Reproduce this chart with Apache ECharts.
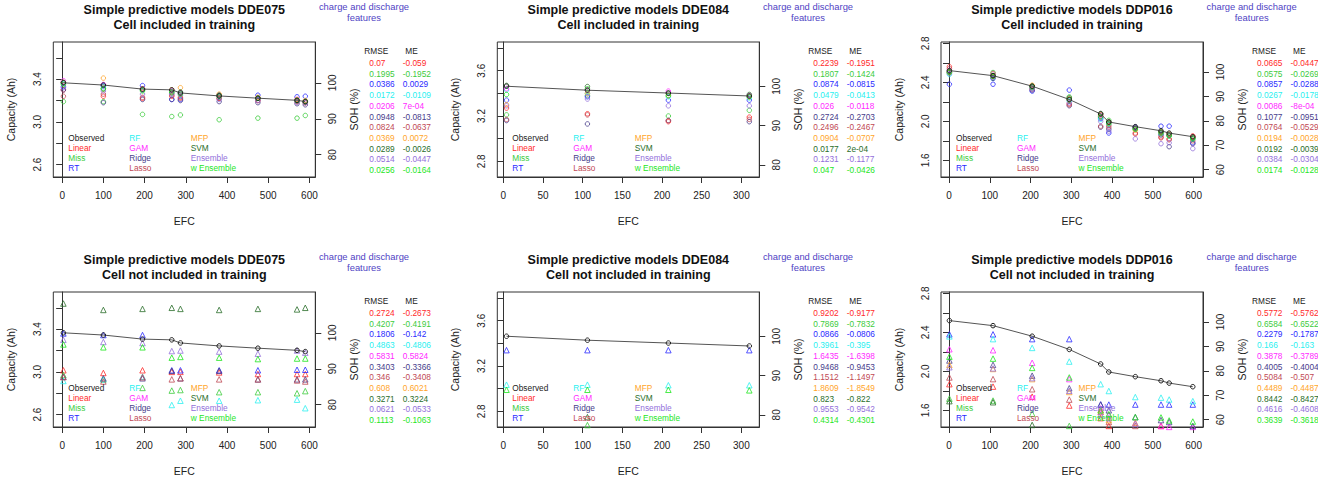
<!DOCTYPE html>
<html><head><meta charset="utf-8">
<script src="https://cdn.jsdelivr.net/npm/echarts@6/dist/echarts.min.js"></script>
<style>html,body{margin:0;padding:0;background:#fff}#c{width:1318px;height:482px}</style>
</head><body><div id="c"></div>
<script>
// ---------------- DATA ----------------
const modelNames = ['Linear','Miss','RT','RF','GAM','Ridge','Lasso','MFP','SVM','Ensemble','w Ensemble'];

// EFC values (x) per cell
const efcDDE075 = [3, 100, 195, 266, 287, 381, 475, 570, 590];
const efcDDE084 = [4, 106, 208, 310];
const efcDDP016 = [1, 108, 204, 295, 372, 392, 457, 520, 540, 598];

// Observed capacity (Ah)
const obsDDE075 = [3.366, 3.345, 3.307, 3.300, 3.271, 3.243, 3.222, 3.202, 3.190];
const obsDDE084 = [3.463, 3.428, 3.403, 3.377];
const obsDDP016 = [2.520, 2.468, 2.360, 2.224, 2.075, 1.993, 1.945, 1.903, 1.879, 1.842];

// Predictions, rows in modelNames order -- cell included in training
const predDDE075in = [
  [3.30, 3.24, 3.22, 3.24, 3.23, 3.22, 3.20, 3.19, 3.18],
  [3.19, 3.19, 3.07, 3.05, 3.065, 3.02, 3.035, 3.035, 3.06],
  [3.33, 3.34, 3.34, 3.21, 3.21, 3.25, 3.25, 3.235, 3.24],
  [3.36, 3.33, 3.30, 3.29, 3.27, 3.24, 3.22, 3.20, 3.19],
  [3.385, 3.35, 3.31, 3.29, 3.27, 3.245, 3.22, 3.21, 3.19],
  [3.30, 3.18, 3.21, 3.21, 3.20, 3.19, 3.18, 3.17, 3.16],
  [3.24, 3.26, 3.23, 3.25, 3.22, 3.22, 3.20, 3.19, 3.18],
  [3.37, 3.41, 3.31, 3.30, 3.32, 3.26, 3.23, 3.21, 3.20],
  [3.37, 3.31, 3.30, 3.27, 3.28, 3.25, 3.22, 3.20, 3.19],
  [3.32, 3.29, 3.26, 3.26, 3.25, 3.21, 3.20, 3.185, 3.18],
  [3.35, 3.31, 3.29, 3.28, 3.26, 3.24, 3.22, 3.20, 3.19]
];
const predDDE084in = [
  [3.27, 3.22, 3.15, 3.19],
  [3.21, 3.38, 3.20, 3.25],
  [3.34, 3.37, 3.34, 3.34],
  [3.43, 3.40, 3.37, 3.36],
  [3.44, 3.43, 3.42, 3.38],
  [3.16, 3.13, 3.16, 3.15],
  [3.17, 3.21, 3.16, 3.17],
  [3.30, 3.40, 3.38, 3.37],
  [3.47, 3.46, 3.40, 3.39],
  [3.29, 3.35, 3.29, 3.29],
  [3.39, 3.44, 3.38, 3.37]
];
const predDDP016in = [
  [2.56, 2.46, 2.34, 2.18, 2.05, 1.96, 1.87, 1.84, 1.82, 1.85],
  [2.51, 2.50, 2.36, 2.25, 2.04, 2.01, 1.92, 1.89, 1.86, 1.83],
  [2.38, 2.38, 2.31, 2.32, 2.03, 1.88, 1.94, 1.95, 1.95, 1.78],
  [2.48, 2.44, 2.34, 2.21, 2.02, 1.97, 1.92, 1.87, 1.85, 1.82],
  [2.52, 2.47, 2.35, 2.22, 2.06, 1.99, 1.93, 1.88, 1.86, 1.84],
  [2.50, 2.44, 2.32, 2.16, 1.94, 1.92, 1.94, 1.86, 1.74, 1.77],
  [2.54, 2.49, 2.33, 2.17, 1.95, 1.94, 1.88, 1.83, 1.81, 1.80],
  [2.50, 2.46, 2.37, 2.23, 2.07, 1.99, 1.91, 1.89, 1.87, 1.84],
  [2.51, 2.47, 2.36, 2.24, 2.08, 1.99, 1.93, 1.89, 1.86, 1.83],
  [2.49, 2.45, 2.33, 2.19, 2.00, 1.90, 1.82, 1.77, 1.78, 1.72],
  [2.50, 2.46, 2.35, 2.22, 2.05, 1.98, 1.92, 1.88, 1.85, 1.82]
];
// Predictions -- cell not included in training
const predDDE075out = [
  [3.015, 2.99, 3.015, 3.00, 3.00, 2.995, 2.98, 2.98, 2.98],
  [2.97, 2.93, 2.85, 2.825, 2.83, 2.81, 2.81, 2.80, 2.82],
  [3.36, 3.345, 3.345, 3.015, 3.015, 3.015, 3.015, 3.02, 3.02],
  [2.915, 2.93, 2.955, 2.69, 2.73, 2.73, 2.735, 2.74, 2.66],
  [3.87, 3.86, 3.86, 3.85, 3.85, 3.84, 3.84, 3.84, 3.75],
  [2.955, 2.94, 2.94, 3.01, 2.94, 3.01, 2.93, 2.93, 2.93],
  [2.95, 2.91, 2.95, 2.93, 2.94, 2.93, 2.93, 2.92, 2.91],
  [3.88, 3.87, 3.87, 3.86, 3.86, 3.86, 3.85, 3.85, 3.85],
  [3.64, 3.58, 3.59, 3.60, 3.59, 3.58, 3.59, 3.585, 3.60],
  [3.30, 3.28, 3.27, 3.195, 3.20, 3.19, 3.17, 3.20, 3.18],
  [3.257, 3.23, 3.23, 3.133, 3.14, 3.133, 3.12, 3.125, 3.125]
];
const predDDE084out = [
  [2.55, 2.51, 2.48, 2.46],
  [2.65, 2.678, 2.62, 2.59],
  [3.34, 3.34, 3.34, 3.34],
  [3.035, 3.035, 3.03, 3.03],
  [1.80, 1.78, 1.77, 1.76],
  [2.50, 2.48, 2.46, 2.45],
  [2.30, 2.28, 2.26, 2.25],
  [1.60, 1.57, 1.55, 1.53],
  [2.62, 2.748, 2.58, 2.55],
  [2.50, 2.47, 2.45, 2.43],
  [2.99, 2.99, 2.99, 2.985]
];
const predDDP016out = [
  [1.868, 1.843, 1.74, 1.649, 1.52, 1.44, 1.39, 1.44, 1.38, 1.36],
  [1.72, 1.70, 1.565, 1.44, 1.40, 1.38, 1.35, 1.33, 1.32, 1.30],
  [2.379, 2.379, 2.33, 2.33, 1.66, 1.659, 1.659, 1.659, 1.659, 1.659],
  [2.358, 2.33, 2.24, 2.10, 1.868, 1.798, 1.736, 1.73, 1.711, 1.694],
  [2.226, 2.216, 2.087, 1.92, 1.62, 1.55, 1.47, 1.44, 1.43, 1.43],
  [2.111, 2.066, 1.955, 1.826, 1.659, 1.60, 1.53, 1.50, 1.48, 1.44],
  [1.937, 1.92, 1.816, 1.71, 1.583, 1.48, 1.44, 1.40, 1.39, 1.38],
  [2.066, 2.024, 1.92, 1.788, 1.60, 1.50, 1.47, 1.42, 1.41, 1.40],
  [1.694, 1.683, 1.45, 1.38, 1.20, 1.10, 1.05, 1.00, 0.98, 0.96],
  [2.042, 2.03, 1.93, 1.80, 1.555, 1.52, 1.46, 1.42, 1.41, 1.40],
  [2.15, 2.13, 2.035, 1.937, 1.60, 1.56, 1.53, 1.527, 1.496, 1.485]
];

// RMSE / ME tables (text as printed)
const rmseDDE075in = ['0.07','0.1995','0.0386','0.0172','0.0206','0.0948','0.0824','0.0369','0.0289','0.0514','0.0256'];
const meDDE075in   = ['-0.059','-0.1952','0.0029','-0.0109','7e-04','-0.0813','-0.0637','0.0072','-0.0026','-0.0447','-0.0164'];
const rmseDDE084in = ['0.2239','0.1807','0.0874','0.0479','0.026','0.2724','0.2496','0.0904','0.0177','0.1231','0.047'];
const meDDE084in   = ['-0.1951','-0.1424','-0.0815','-0.0413','-0.0118','-0.2703','-0.2467','-0.0707','2e-04','-0.1177','-0.0426'];
const rmseDDP016in = ['0.0665','0.0575','0.0857','0.0267','0.0086','0.1077','0.0764','0.0194','0.0192','0.0384','0.0174'];
const meDDP016in   = ['-0.0447','-0.0269','-0.0288','-0.0178','-8e-04','-0.0951','-0.0529','-0.0028','-0.0039','-0.0304','-0.0128'];
const rmseDDE075out = ['0.2724','0.4207','0.1806','0.4863','0.5831','0.3403','0.346','0.608','0.3271','0.0621','0.1113'];
const meDDE075out   = ['-0.2673','-0.4191','-0.142','-0.4806','0.5824','-0.3366','-0.3408','0.6021','0.3224','-0.0533','-0.1063'];
const rmseDDE084out = ['0.9202','0.7869','0.0866','0.3961','1.6435','0.9468','1.1512','1.8609','0.823','0.9553','0.4314'];
const meDDE084out   = ['-0.9177','-0.7832','-0.0806','-0.395','-1.6398','-0.9453','-1.1497','-1.8549','-0.822','-0.9542','-0.4301'];
const rmseDDP016out = ['0.5772','0.6584','0.2279','0.166','0.3878','0.4005','0.5084','0.4489','0.8442','0.4616','0.3639'];
const meDDP016out   = ['-0.5762','-0.6522','-0.1787','-0.163','-0.3789','-0.4004','-0.507','-0.4487','-0.8427','-0.4608','-0.3618'];

// Tick values
const xTicks600 = [0, 100, 200, 300, 400, 500, 600];
const xTicks300 = [0, 50, 100, 150, 200, 250, 300];
const capTicksDDE075 = [2.6, 2.8, 3.0, 3.2, 3.4, 3.6];
const capLabelsDDE075 = [2.6, 3.0, 3.4];
const capTicksDDE084 = [2.8, 3.0, 3.2, 3.4, 3.6, 3.8];
const capLabelsDDE084 = [2.8, 3.2, 3.6];
const capTicksDDP016 = [1.6, 1.8, 2.0, 2.2, 2.4, 2.6, 2.8];
const capLabelsDDP016 = [1.6, 2.0, 2.4, 2.8];
const sohTicksDDE = [80, 90, 100];
const sohTicksDDP = [60, 70, 80, 90, 100];

// ---------------- STYLE / LAYOUT ----------------
const modelColors = ['#ff2a2a','#3ccc3c','#2a2aff','#2af0f0','#ff2aff','#483d8b','#bf4a55','#ffa52a','#2a6e2a','#9370db','#1ee61e'];
const legendCols = [
  [['Observed','#222'],['Linear',modelColors[0]],['Miss',modelColors[1]],['RT',modelColors[2]]],
  [['RF',modelColors[3]],['GAM',modelColors[4]],['Ridge',modelColors[5]],['Lasso',modelColors[6]]],
  [['MFP',modelColors[7]],['SVM',modelColors[8]],['Ensemble',modelColors[9]],['w Ensemble',modelColors[10]]]
];
const FF = '"Liberation Sans", Arial, Helvetica, sans-serif';
const cols = [
  {cell:'DDE075', left:53.3, xMin:-21.5, xMax:614.3, yMin:2.484, yMax:3.748, sMin:73.8, sMax:111.35,
   x:efcDDE075, obs:obsDDE075, xt:xTicks600, ct:capTicksDDE075, cl:capLabelsDDE075, st:sohTicksDDE},
  {cell:'DDE084', left:497.3, xMin:-7.6, xMax:322.6, yMin:2.661, yMax:3.854, sMin:76.9, sMax:111.3,
   x:efcDDE084, obs:obsDDE084, xt:xTicks300, ct:capTicksDDE084, cl:capLabelsDDE084, st:sohTicksDDE},
  {cell:'DDP016', left:941, xMin:-19.6, xMax:623, yMin:1.429, yMax:2.813, sMin:57.0, sMax:112.3,
   x:efcDDP016, obs:obsDDP016, xt:xTicks600, ct:capTicksDDP016, cl:capLabelsDDP016, st:sohTicksDDP}
];
const rows = [
  {top:42, sub:'Cell included in training', sym:'circle', size:4.5,
   pred:[predDDE075in, predDDE084in, predDDP016in],
   rmse:[rmseDDE075in, rmseDDE084in, rmseDDP016in], me:[meDDE075in, meDDE084in, meDDP016in]},
  {top:292, sub:'Cell not included in training', sym:'triangle', size:5.5,
   pred:[predDDE075out, predDDE084out, predDDP016out],
   rmse:[rmseDDE075out, rmseDDE084out, rmseDDP016out], me:[meDDE075out, meDDE084out, meDDP016out]}
];
const W = 262, H = 135;

const grid = [], xAxis = [], yAxis = [], series = [], graphic = [];
function txt(x, y, text, color, size, opts) {
  opts = opts || {};
  const font = (opts.bold ? 'bold ' : '') + size + 'px ' + FF;
  const align = opts.align || 'left';
  graphic.push({type:'text', x:x, y:y, rotation: opts.rot || 0, z: 50,
    style:{text:text, fill:color, font:font, align:align, textAlign:align,
           verticalAlign:'middle', textVerticalAlign:'middle'}});
}
const pairs = (xs, ys) => xs.map((v, i) => [v, ys[i]]);
const axisCol = '#333', labCol = '#222';

let gi = 0;
rows.forEach((r) => {
  cols.forEach((c, ci) => {
    grid.push({left:c.left, top:r.top, width:W, height:H, show:true, borderColor:'#333', borderWidth:1, containLabel:false});
    xAxis.push({gridIndex:gi, type:'value', min:c.xMin, max:c.xMax,
      axisLine:{show:true, lineStyle:{color:axisCol}},
      axisTick:{show:true, length:6, lineStyle:{color:axisCol}, customValues:c.xt},
      axisLabel:{customValues:c.xt, margin:13, color:labCol, fontSize:10, fontFamily:FF, formatter:(v)=>String(Math.round(v))},
      splitLine:{show:false}});
    yAxis.push({gridIndex:gi, type:'value', position:'left', min:c.yMin, max:c.yMax,
      axisLine:{show:true, lineStyle:{color:axisCol}},
      axisTick:{show:true, length:6, lineStyle:{color:axisCol}, customValues:c.ct},
      axisLabel:{customValues:c.cl, rotate:90, margin:11, color:labCol, fontSize:10, fontFamily:FF, formatter:(v)=>v.toFixed(1)},
      splitLine:{show:false}});
    yAxis.push({gridIndex:gi, type:'value', position:'right', min:c.sMin, max:c.sMax,
      axisLine:{show:true, lineStyle:{color:axisCol}},
      axisTick:{show:true, length:6, lineStyle:{color:axisCol}, customValues:c.st},
      axisLabel:{customValues:c.st, rotate:90, margin:12, color:labCol, fontSize:10, fontFamily:FF, formatter:(v)=>String(Math.round(v))},
      splitLine:{show:false}});
    // observed
    series.push({type:'line', xAxisIndex:gi, yAxisIndex:2*gi, data:pairs(c.x, c.obs),
      symbol:'circle', symbolSize:4.5, showSymbol:true, z:3,
      lineStyle:{color:'#555', width:1}, itemStyle:{color:'rgba(0,0,0,0)', borderColor:'#222', borderWidth:1}});
    // predictions
    r.pred[ci].forEach((vals, mi) => {
      series.push({type:'scatter', name:modelNames[mi], xAxisIndex:gi, yAxisIndex:2*gi, data:pairs(c.x, vals),
        symbol:r.sym, symbolSize:r.size, clip:true, z:2,
        itemStyle:{color:'rgba(0,0,0,0)', borderColor:modelColors[mi], borderWidth:1}});
    });
    // texts
    const cx = c.left + W/2, right = c.left + W, top = r.top, bottom = r.top + H;
    txt(cx, top - 32, 'Simple predictive models ' + c.cell, '#111', 12.5, {bold:true, align:'center'});
    txt(cx, top - 17, r.sub, '#111', 12.5, {bold:true, align:'center'});
    txt(right + 48.7, top - 35.2, 'charge and discharge', '#4f43c4', 9.4, {align:'center'});
    txt(right + 48.7, top - 24.3, 'features', '#4f43c4', 9.4, {align:'center'});
    txt(cx, bottom + 43.8, 'EFC', '#222', 10.5, {align:'center'});
    txt(c.left - 42.5, top + H/2, 'Capacity (Ah)', '#222', 10.5, {align:'center', rot:Math.PI/2});
    txt(right + 38.5, top + H/2, 'SOH (%)', '#222', 10.5, {align:'center', rot:Math.PI/2});
    legendCols.forEach((col, k) => {
      const lx = c.left + [15, 76, 137.5][k];
      col.forEach((it, j) => txt(lx, top + 96 + 10*j, it[0], it[1], 8.3));
    });
    txt(right + 49, top + 8.5, 'RMSE', '#222', 8.3);
    txt(right + 90, top + 8.5, 'ME', '#222', 8.3);
    r.rmse[ci].forEach((s, j) => {
      txt(right + 54, top + 21 + 10.7*j, s, modelColors[j], 8.3);
      txt(right + 87.5, top + 21 + 10.7*j, r.me[ci][j], modelColors[j], 8.3);
    });
    gi++;
  });
});

const chart = echarts.init(document.getElementById('c'), null, {renderer:'svg'});
chart.setOption({animation:false, backgroundColor:'#fff', grid, xAxis, yAxis, series, graphic,
  tooltip:{show:false}});
</script></body></html>
